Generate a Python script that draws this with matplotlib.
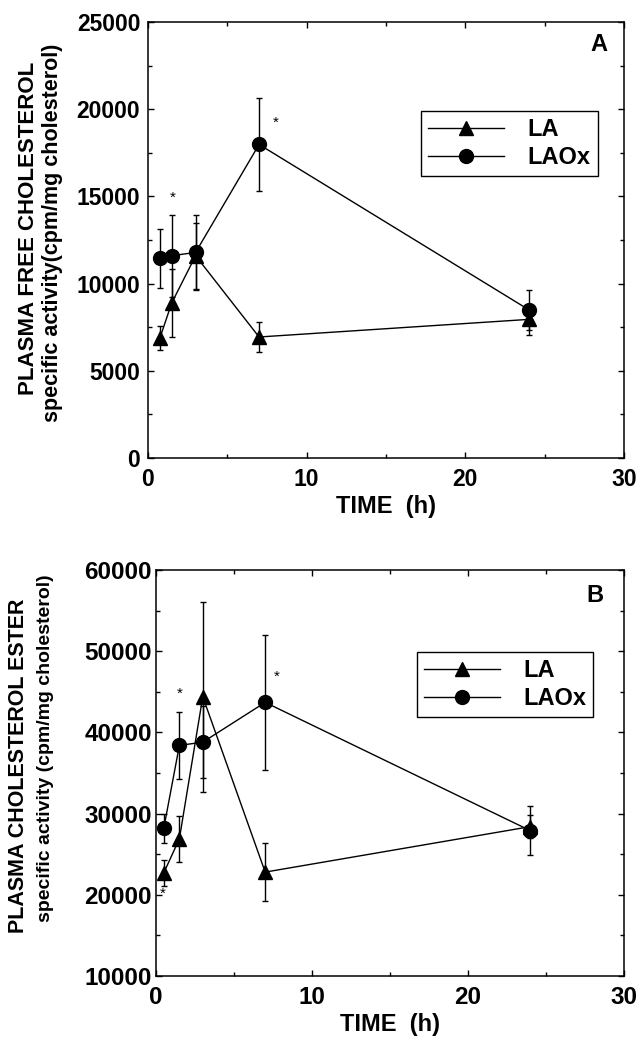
import matplotlib
matplotlib.use('Agg')
import matplotlib.pyplot as plt
from matplotlib.ticker import MultipleLocator

plt.rcParams['font.family'] = ['Liberation Sans', 'DejaVu Sans']
plt.rcParams['font.weight'] = 'bold'

# panel A: plasma free cholesterol
time_a = [0.75, 1.5, 3, 7, 24]
la_a = [6880, 8900, 11600, 6940, 7950]
la_a_err = [680, 1960, 1900, 870, 900]
laox_a = [11460, 11600, 11790, 17980, 8500]
laox_a_err = [1700, 2340, 2150, 2680, 1150]
star_a_x = [1.55, 8.05]
star_a_y = [14900, 19200]

# panel B: plasma cholesterol ester
time_b = [0.5, 1.5, 3, 7, 24]
la_b = [22700, 26900, 44400, 22800, 28400]
la_b_err = [1600, 2800, 11700, 3600, 1400]
laox_b = [28200, 38400, 38800, 43700, 27900]
laox_b_err = [1800, 4100, 4400, 8300, 3000]
star_b_x = [1.5, 7.75, 0.45]
star_b_y = [44800, 46900, 20100]

fig = plt.figure(figsize=(6.39, 10.4), dpi=100)
ax1 = fig.add_axes([0.2316, 0.5596, 0.745, 0.4192])
ax2 = fig.add_axes([0.2441, 0.0615, 0.7324, 0.3904])


def draw(ax, t, la, la_err, laox, laox_err, sx, sy, ylim, ymaj, letter, lpos,
         line1, line2, x1, y1, x2, y2, fs1, fs2, tfs, ypad, legbox):
    ax.errorbar(t, la, yerr=la_err, fmt='none', ecolor='black', elinewidth=1,
                capsize=2.5, capthick=1)
    ax.errorbar(t, laox, yerr=laox_err, fmt='none', ecolor='black', elinewidth=1,
                capsize=2.5, capthick=1)
    ax.plot(t, la, color='black', marker='^', ms=10, lw=1, label='LA')
    ax.plot(t, laox, color='black', marker='o', ms=10, lw=1, label='LAOx')
    for a, b in zip(sx, sy):
        ax.text(a, b, '*', ha='center', va='center', fontsize=11, fontweight='normal')
    ax.set_xlim(0, 30)
    ax.set_ylim(*ylim)
    ax.xaxis.set_major_locator(MultipleLocator(10))
    ax.xaxis.set_minor_locator(MultipleLocator(5))
    ax.yaxis.set_major_locator(MultipleLocator(ymaj))
    ax.yaxis.set_minor_locator(MultipleLocator(ymaj / 2))
    ax.tick_params(which='both', direction='in', top=True, right=True, width=1)
    ax.tick_params(which='major', length=4, labelsize=tfs)
    ax.tick_params(which='minor', length=3)
    ax.tick_params(axis='x', pad=7)
    ax.tick_params(axis='y', pad=ypad)
    for s in ax.spines.values():
        s.set_linewidth(1.1)
    ax.set_xlabel('TIME  (h)', fontsize=17, fontweight='bold', labelpad=3)
    ax.text(lpos[0], lpos[1], letter, transform=ax.transAxes, ha='right', va='center',
            fontsize=17, fontweight='bold')
    ax.text(x1, y1, line1, transform=ax.transAxes, rotation=90, ha='center', va='center',
            fontsize=fs1, fontweight='bold')
    ax.text(x2, y2, line2, transform=ax.transAxes, rotation=90, ha='center', va='center',
            fontsize=fs2, fontweight='bold')
    leg = ax.legend(loc='upper left', bbox_to_anchor=legbox, fontsize=17, frameon=True,
                    fancybox=False, edgecolor='black', handlelength=3.2, borderpad=0.3,
                    labelspacing=0.2, handletextpad=1.0, borderaxespad=0)
    leg.get_frame().set_linewidth(1)
    leg.get_frame().set_alpha(1)


draw(ax1, time_a, la_a, la_a_err, laox_a, laox_a_err, star_a_x, star_a_y,
     (0, 25000), 5000, 'A', (0.964, 0.948), 'PLASMA FREE CHOLESTEROL',
     'specific activity(cpm/mg cholesterol)', -0.252, 0.527, -0.2, 0.516,
     16, 15.5, 16.5, 5.5, (0.574, 0.796))
draw(ax2, time_b, la_b, la_b_err, laox_b, laox_b_err, star_b_x, star_b_y,
     (10000, 60000), 10000, 'B', (0.957, 0.937), 'PLASMA CHOLESTEROL ESTER',
     'specific activity (cpm/mg cholesterol)', -0.293, 0.517, -0.237, 0.56,
     15.5, 14, 17.5, 3, (0.558, 0.798))

fig.savefig('out.png', dpi=100)
